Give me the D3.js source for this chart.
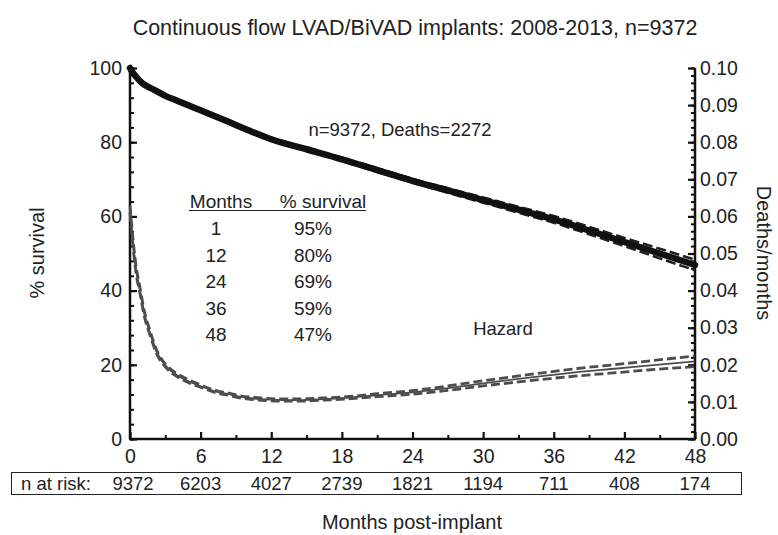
<!DOCTYPE html>
<html><head><meta charset="utf-8">
<script src="https://cdn.jsdelivr.net/npm/d3@7"></script>
<style>
body{margin:0;background:#fff;}
svg{display:block;font-family:"Liberation Sans",Arial,Helvetica,sans-serif;}
</style></head>
<body><svg id="c" width="778" height="535"></svg>
<script>
// ---- data ----
const survMonths = [0,0.25,0.5,1,1.5,2,3,4,5,6,8,10,12,15,18,21,24,27,30,33,36,39,42,45,48];
const survival   = [100,98.7,97.7,96,95,94.2,92.5,91.2,89.9,88.6,86,83.3,80.8,78.1,75.4,72.5,69.6,67,64.4,61.8,59.2,56.2,53.1,50,46.9];
const survUpper  = [100,98.9,97.9,96.2,95.2,94.4,92.7,91.4,90.1,88.9,86.3,83.6,81.2,78.5,75.8,73,70.1,67.6,65.1,62.6,60.1,57.2,54.2,51.3,48.3];
const survLower  = [100,98.5,97.5,95.8,94.8,94,92.3,91,89.7,88.3,85.7,83,80.4,77.7,75,72,69.1,66.4,63.7,61,58.3,55.2,52,48.7,45.5];

const hazMonths = [0,0.25,0.5,0.85,1.2,1.7,2.3,3.1,4,5.1,6.2,7.4,8.5,9.3,10.5,11.9,13,14.4,16,18.4,21,24.4,27,30,33,35.7,38,41.4,44,48];
const hazard    = [0.062,0.053,0.046,0.040,0.034,0.0286,0.0232,0.0195,0.0172,0.0154,0.014,0.0127,0.012,0.0114,0.0109,0.0106,0.0105,0.0105,0.0107,0.0111,0.0118,0.0127,0.0137,0.015,0.0162,0.0172,0.018,0.019,0.0198,0.0209];
const hazUpper  = [0.063,0.054,0.047,0.0408,0.0347,0.0292,0.0237,0.0199,0.0176,0.0158,0.0143,0.013,0.0123,0.0117,0.0112,0.0109,0.0108,0.0108,0.011,0.0114,0.0122,0.0132,0.0143,0.0157,0.017,0.0181,0.019,0.0201,0.021,0.0224];
const hazLower  = [0.061,0.052,0.045,0.0392,0.0333,0.028,0.0227,0.0191,0.0168,0.015,0.0137,0.0124,0.0117,0.0111,0.0106,0.0103,0.0102,0.0102,0.0104,0.0108,0.0114,0.0122,0.0131,0.0143,0.0154,0.0163,0.017,0.0179,0.0186,0.0195];

const xTicks = [0,6,12,18,24,30,36,42,48];
const nAtRisk = [9372,6203,4027,2739,1821,1194,711,408,174];
const tableMonths = ["1","12","24","36","48"];
const tableSurvival = ["95%","80%","69%","59%","47%"];

const title = "Continuous flow LVAD/BiVAD implants: 2008-2013, n=9372";

// ---- chart ----
const svg = d3.select("#c");
const x = d3.scaleLinear().domain([0,48]).range([130,695]);
const yL = d3.scaleLinear().domain([0,100]).range([439,68]);
const yR = d3.scaleLinear().domain([0,0.10]).range([439,68]);

const fs = 18.5;
const tc = "#222";

svg.append("text").attr("x",415).attr("y",35).attr("text-anchor","middle")
  .attr("font-size",21.5).attr("fill",tc).text(title);

function styleAxis(g, lw){
  g.select(".domain").remove();
  g.selectAll("line").attr("stroke","#111").attr("stroke-width",lw);
  g.selectAll("text").attr("fill",tc).attr("font-size",19.5);
}

// minor ticks
const gLm = svg.append("g").attr("transform","translate(130,0)")
  .call(d3.axisLeft(yL).tickValues(d3.range(0,101,4)).tickSizeInner(-4).tickSizeOuter(0).tickFormat(""));
styleAxis(gLm,2);
const gL = svg.append("g").attr("transform","translate(130,0)")
  .call(d3.axisLeft(yL).tickValues([0,20,40,60,80,100]).tickSizeInner(-7).tickSizeOuter(0).tickPadding(8));
styleAxis(gL,2.2);

const gRm = svg.append("g").attr("transform","translate(695,0)")
  .call(d3.axisRight(yR).tickValues(d3.range(0,0.1001,0.002)).tickSizeInner(-4).tickSizeOuter(0).tickFormat(""));
styleAxis(gRm,2);
const gR = svg.append("g").attr("transform","translate(695,0)")
  .call(d3.axisRight(yR).tickValues(d3.range(0,0.1001,0.01)).tickSizeInner(-7).tickSizeOuter(0).tickPadding(5).tickFormat(d3.format(".2f")));
styleAxis(gR,2.2);

const gBm = svg.append("g").attr("transform","translate(0,439)")
  .call(d3.axisBottom(x).tickValues(d3.range(3,48,6)).tickSizeInner(-4).tickSizeOuter(0).tickFormat(""));
styleAxis(gBm,2);
const gB = svg.append("g").attr("transform","translate(0,439)")
  .call(d3.axisBottom(x).tickValues(xTicks).tickSizeInner(-7).tickSizeOuter(0).tickPadding(10));
styleAxis(gB,2.2);

// axis lines
svg.append("line").attr("x1",130).attr("x2",130).attr("y1",yL(100)).attr("y2",439).attr("stroke","#111").attr("stroke-width",2.5);
svg.append("line").attr("x1",695).attr("x2",695).attr("y1",yR(0.10)).attr("y2",439).attr("stroke","#111").attr("stroke-width",2.5);
svg.append("line").attr("x1",129).attr("x2",696).attr("y1",439).attr("y2",439).attr("stroke","#111").attr("stroke-width",2.5);

// curves
const lineS = arr => d3.line().x((d,i)=>x(survMonths[i])).y((d,i)=>yL(arr[i])).curve(d3.curveMonotoneX)(arr);
const lineH = arr => d3.line().x((d,i)=>x(hazMonths[i])).y((d,i)=>yR(arr[i])).curve(d3.curveMonotoneX)(arr);

[hazUpper,hazLower].forEach(a=>svg.append("path").attr("d",lineH(a)).attr("fill","none")
  .attr("stroke","#4d4d4d").attr("stroke-width",2.8).attr("stroke-dasharray","9,4"));
svg.append("path").attr("d",lineH(hazard)).attr("fill","none").attr("stroke","#4d4d4d").attr("stroke-width",1.8);

[survUpper,survLower].forEach(a=>svg.append("path").attr("d",lineS(a)).attr("fill","none")
  .attr("stroke","#222").attr("stroke-width",2.6).attr("stroke-dasharray","10,4"));
svg.append("path").attr("d",lineS(survival)).attr("fill","none").attr("stroke","#111").attr("stroke-width",6.5)
  .attr("stroke-linecap","round");

// annotations
svg.append("text").attr("x",400).attr("y",136).attr("text-anchor","middle").attr("font-size",fs).attr("fill",tc).text("n=9372, Deaths=2272");
svg.append("text").attr("x",503).attr("y",335).attr("text-anchor","middle").attr("font-size",fs).attr("fill",tc).text("Hazard");

// table
const tfs = 19;
svg.append("text").attr("x",221).attr("y",208).attr("text-anchor","middle").attr("font-size",tfs).attr("fill",tc).text("Months");
svg.append("text").attr("x",323).attr("y",208).attr("text-anchor","middle").attr("font-size",tfs).attr("fill",tc).text("% survival");
svg.append("line").attr("x1",189).attr("x2",366).attr("y1",210.5).attr("y2",210.5).attr("stroke",tc).attr("stroke-width",1.2);
const rowY = d3.scaleLinear().domain([0,4]).range([235,341]);
tableMonths.forEach((m,i)=>{
  svg.append("text").attr("x",216).attr("y",rowY(i)).attr("text-anchor","middle").attr("font-size",tfs).attr("fill",tc).text(m);
  svg.append("text").attr("x",313).attr("y",rowY(i)).attr("text-anchor","middle").attr("font-size",tfs).attr("fill",tc).text(tableSurvival[i]);
});

// axis titles
svg.append("text").attr("transform","translate(44,253) rotate(-90)").attr("text-anchor","middle").attr("font-size",20).attr("fill",tc).text("% survival");
svg.append("text").attr("transform","translate(757,253) rotate(90)").attr("text-anchor","middle").attr("font-size",20).attr("fill",tc).text("Deaths/months");
svg.append("text").attr("x",412).attr("y",529).attr("text-anchor","middle").attr("font-size",20).attr("fill",tc).text("Months post-implant");

// n at risk
const rfs = 18.5;
svg.append("rect").attr("x",11.5).attr("y",472.5).attr("width",730).attr("height",22).attr("fill","none").attr("stroke",tc).attr("stroke-width",1);
svg.append("text").attr("x",21).attr("y",490).attr("font-size",rfs).attr("fill",tc).text("n at risk:");
nAtRisk.forEach((n,i)=>{
  svg.append("text").attr("x",x(xTicks[i])+(i===0?3:0)).attr("y",490).attr("text-anchor","middle").attr("font-size",rfs).attr("fill",tc).text(n);
});
</script></body></html>
